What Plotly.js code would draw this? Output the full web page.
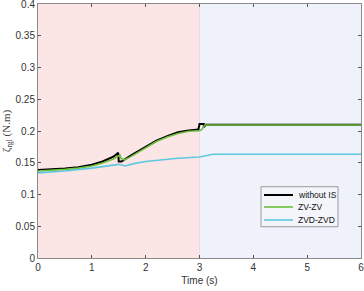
<!DOCTYPE html>
<html>
<head>
<meta charset="utf-8">
<script src="https://cdn.plot.ly/plotly-3.0.1.min.js"></script>
<style>html,body{margin:0;padding:0;background:#fff;}#chart{width:364px;height:291px;}</style>
</head>
<body>
<div id="chart"></div>
<script>
// Without IS
var tWithout = [0, 0.25, 0.5, 0.75, 1.0, 1.2, 1.4, 1.49, 1.5, 1.55, 1.6, 1.7, 1.8, 1.9, 2.0, 2.2, 2.4, 2.6, 2.8, 2.98, 3.0, 3.08, 3.08, 3.12, 3.3, 6];
var vWithout = [0.1385, 0.1395, 0.141, 0.143, 0.147, 0.152, 0.1595, 0.1655, 0.152, 0.152, 0.155, 0.160, 0.165, 0.170, 0.175, 0.185, 0.192, 0.198, 0.201, 0.2025, 0.211, 0.211, 0.206, 0.210, 0.210, 0.210];
// ZV-ZV
var tZV = [0, 0.25, 0.5, 0.75, 1.0, 1.2, 1.4, 1.49, 1.52, 1.54, 1.6, 1.7, 1.8, 2.0, 2.2, 2.4, 2.6, 2.8, 3.0, 3.04, 3.1, 6];
var vZV = [0.137, 0.138, 0.1395, 0.1415, 0.145, 0.1495, 0.156, 0.1605, 0.1625, 0.157, 0.1545, 0.1585, 0.1635, 0.1735, 0.1835, 0.1905, 0.196, 0.1995, 0.2005, 0.202, 0.2095, 0.2095];
// ZVD-ZVD
var tZVD = [0, 0.5, 1.0, 1.3, 1.5, 1.62, 1.8, 2.0, 2.3, 2.6, 3.0, 3.25, 6];
var vZVD = [0.134, 0.137, 0.1415, 0.1445, 0.1475, 0.145, 0.149, 0.152, 0.155, 0.157, 0.159, 0.1635, 0.1635];

var seriesNames = ['without IS', 'ZV-ZV', 'ZVD-ZVD'];
var seriesColors = ['#000000', '#6cc03a', '#5ec8e0'];
var seriesWidths = [2, 1.6, 1.6];
var xTicks = [0, 1, 2, 3, 4, 5, 6];
var yTicks = [0, 0.05, 0.1, 0.15, 0.2, 0.25, 0.3, 0.35, 0.4];
var yTickText = ['0', '0.05', '0.1', '0.15', '0.2', '0.25', '0.3', '0.35', '0.4'];
var phaseEdges = [0, 3, 6];

var xs = [tWithout, tZV, tZVD];
var ys = [vWithout, vZV, vZVD];
var traces = seriesNames.map(function (n, i) {
  return {x: xs[i], y: ys[i], name: n, mode: 'lines', showlegend: false,
          line: {color: seriesColors[i], width: seriesWidths[i]}};
});

var fontSans = 'Liberation Sans, Arial, sans-serif';
var axisCommon = {
  showgrid: false, zeroline: false, showline: true, linecolor: '#8a8a8a', linewidth: 1,
  mirror: 'allticks', ticks: 'inside', ticklen: 3, tickcolor: '#555', tickwidth: 1,
  ticklabeloverflow: 'allow',
  tickfont: {family: fontSans, size: 10, color: '#333'}
};

// manual legend box (paper coords)
var legBox = {x0: 0.6904, x1: 0.9288, y0: 0.1232, y1: 0.2807};
var legRows = [0.248, 0.2008, 0.1496];
var legSample = [0.6997, 0.7895];
var legTextX = 0.7988;

var shapes = [
  {type: 'rect', xref: 'x', yref: 'paper', x0: phaseEdges[0], x1: phaseEdges[1], y0: 0, y1: 1, fillcolor: '#fbe6e5', line: {width: 0}, layer: 'below'},
  {type: 'rect', xref: 'x', yref: 'paper', x0: phaseEdges[1], x1: phaseEdges[2], y0: 0, y1: 1, fillcolor: '#eff2fa', line: {width: 0}, layer: 'below'},
  {type: 'line', xref: 'x', yref: 'paper', x0: phaseEdges[1], x1: phaseEdges[1], y0: 0, y1: 1, line: {color: '#dde0ea', width: 1}, layer: 'below'},
  {type: 'rect', xref: 'paper', yref: 'paper', x0: legBox.x0, x1: legBox.x1, y0: legBox.y0, y1: legBox.y1, fillcolor: '#f3f5fb', line: {color: '#9a9a9a', width: 1}}
];
var annotations = [];
seriesNames.forEach(function (n, i) {
  shapes.push({type: 'line', xref: 'paper', yref: 'paper', x0: legSample[0], x1: legSample[1], y0: legRows[i], y1: legRows[i],
               line: {color: seriesColors[i], width: seriesWidths[i]}});
  annotations.push({xref: 'paper', yref: 'paper', x: legTextX, y: legRows[i], xanchor: 'left', yanchor: 'middle',
                    text: n, showarrow: false, font: {family: fontSans, size: 8.5, color: '#111'}});
});

var layout = {
  width: 364, height: 291,
  margin: {l: 38, r: 3, t: 4, b: 33},
  paper_bgcolor: '#ffffff', plot_bgcolor: '#ffffff',
  showlegend: false,
  xaxis: Object.assign({}, axisCommon, {
    range: [0, 6], tickvals: xTicks,
    title: {text: 'Time (s)', font: {family: fontSans, size: 10, color: '#333'}, standoff: 4}
  }),
  yaxis: Object.assign({}, axisCommon, {
    range: [0, 0.4], tickvals: yTicks, ticktext: yTickText,
    title: {text: '\u03b6<sub>rgl</sub> (N.m)', font: {family: 'Liberation Serif, Times New Roman, serif', size: 11, color: '#444'}, standoff: 3}
  }),
  shapes: shapes,
  annotations: annotations
};

Plotly.newPlot('chart', traces, layout, {displayModeBar: false, staticPlot: true});
</script>
</body>
</html>
